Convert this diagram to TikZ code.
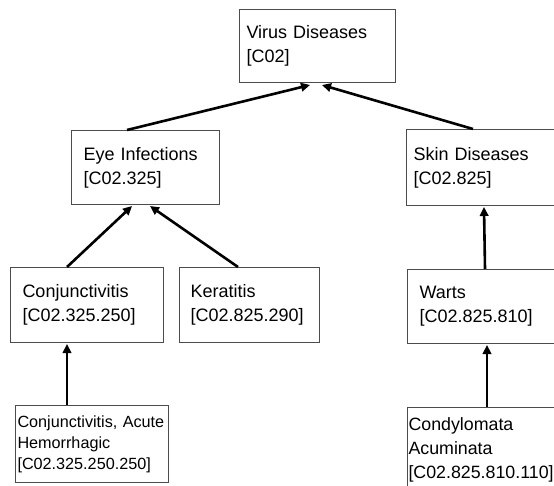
\documentclass[tikz,border=0pt]{standalone}
\usepackage{fontspec}
\setmainfont{Liberation Sans}
\usetikzlibrary{arrows.meta}
\tikzset{
  box/.style={draw=black!70, line width=1pt, anchor=north west, align=left,
    inner ysep=0pt, font=\fontsize{18}{24}\selectfont},
  smallbox/.style={box, font=\fontsize{16.2}{21}\selectfont},
  link/.style={line width=2.6pt, draw=black, -{Triangle[length=9pt,width=8.5pt]}, shorten >=0pt}
}
\begin{document}
\begin{tikzpicture}[x=1pt,y=-1pt]
\useasboundingbox (0,0) rectangle (554,485);
\clip (0,0) rectangle (554,485);
\node[box, minimum width=156pt, minimum height=73pt, inner xsep=7pt, text width=142pt] (virus) at (239,9) {Virus Diseases\\{}[C02]};
\node[box, minimum width=148pt, minimum height=74pt, inner xsep=12pt, text width=124pt] (eye) at (71,130) {Eye Infections\\{}[C02.325]};
\node[box, minimum width=160pt, minimum height=76pt, inner xsep=7pt, text width=146pt] (skin) at (406,129) {Skin Diseases\\{}[C02.825]};
\node[box, minimum width=153pt, minimum height=75pt, inner xsep=12pt, text width=129pt] (conj) at (10,267) {Conjunctivitis\\{}[C02.325.250]};
\node[box, minimum width=140pt, minimum height=75pt, inner xsep=11pt, text width=118pt] (ker) at (179,267) {Keratitis\\{}[C02.825.290]};
\node[box, minimum width=160pt, minimum height=74pt, inner xsep=12pt, text width=136pt] (warts) at (407,269) {Warts\\{}[C02.825.810]};
\node[smallbox, minimum width=153pt, minimum height=77pt, inner xsep=2pt, text width=149pt] (acute) at (15,405) {Conjunctivitis, Acute\\Hemorrhagic\\{}[C02.325.250.250]};
\node[box, font=\fontsize{17.8}{24}\selectfont, minimum width=160pt, minimum height=84pt, inner xsep=1pt, text width=158pt] (cond) at (407,407) {Condylomata\\Acuminata\\{}[C02.825.810.110]};

\draw[link] ([xshift=56pt]eye.north west) -- ([xshift=71pt,yshift=-2pt]virus.south west);
\draw[link] ([xshift=67pt]skin.north west) -- ([xshift=83pt,yshift=-2pt]virus.south west);
\draw[link] ([xshift=57pt]conj.north west) -- ([xshift=61pt,yshift=-1pt]eye.south west);
\draw[link] ([xshift=59pt]ker.north west) -- ([xshift=79pt,yshift=-1pt]eye.south west);
\draw[link] ([xshift=52pt]acute.north west) -- ([xshift=57pt,yshift=-1pt]conj.south west);
\draw[link] ([xshift=78pt]warts.north west) -- ([xshift=78pt,yshift=-1pt]skin.south west);
\draw[link] ([xshift=80pt]cond.north west) -- ([xshift=80pt,yshift=-1pt]warts.south west);
\end{tikzpicture}
\end{document}
